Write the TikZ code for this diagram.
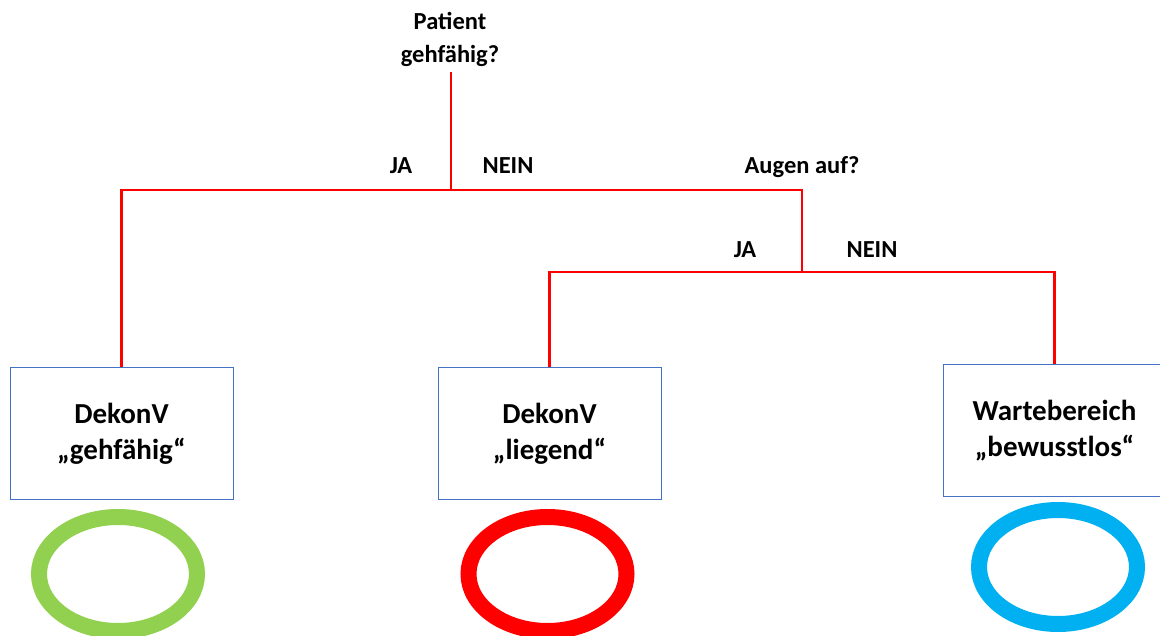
\documentclass[tikz,border=0pt]{standalone}
\usepackage{fontspec}
\setmainfont{Carlito}
\usetikzlibrary{shapes.geometric}
\definecolor{linered}{HTML}{FF0000}
\definecolor{boxblue}{HTML}{4472C4}
\definecolor{ringgreen}{HTML}{92D050}
\definecolor{ringblue}{HTML}{00B0F0}
\begin{document}
\begin{tikzpicture}[x=1pt,y=-1pt,
  lbl/.style={font=\fontsize{24.5}{33}\selectfont\bfseries, align=center, inner sep=0pt},
  boxnode/.style={draw=boxblue, line width=1pt, minimum width=223pt, minimum height=131pt, inner sep=0pt, align=center, font=\fontsize{29}{36}\selectfont\bfseries},
  conn/.style={draw=linered, line width=2.6pt},
  ring/.style={ellipse, draw, line width=16pt, minimum width=158pt, minimum height=114pt, inner sep=0pt}]
\useasboundingbox (0,0) rectangle (1160,636);
% question and labels
\node[lbl] (q1) at (450,39) {Patient\\gehfähig?};
\node[lbl] (ja1) at (401,166) {JA};
\node[lbl] (nein1) at (508,166) {NEIN};
\node[lbl] (q2) at (802,167) {Augen auf?};
\node[lbl] (ja2) at (745,250) {JA};
\node[lbl] (nein2) at (872,250) {NEIN};
% boxes
\node[boxnode] (b1) at (121.5,433.5) {DekonV\\„gehfähig“};
\node[boxnode] (b2) at (549.5,433.5) {DekonV\\„liegend“};
\node[boxnode] (b3) at (1054.5,430.5) {Wartebereich\\„bewusstlos“};
% rings
\node[ring, draw=ringgreen] (r1) at (118,574) {};
\node[ring, draw=linered] (r2) at (547.5,574) {};
\node[ring, draw=ringblue] (r3) at (1058,567) {};
% junctions
\coordinate (s1) at (451,72);
\coordinate (j1) at (451,190);
\coordinate (j2) at (802,272);
% connectors
\draw[conn] (s1) -- (j1);
\draw[conn] (j1) -| (b1.north);
\draw[conn] (j1) -| (j2);
\draw[conn] (j2) -| (b2.north);
\draw[conn] (j2) -| (b3.north);
\end{tikzpicture}
\end{document}
